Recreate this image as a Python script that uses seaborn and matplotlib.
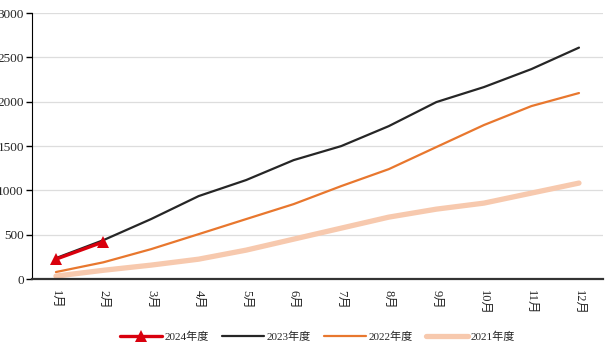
import numpy as np
import pandas as pd
import seaborn as sns
import matplotlib.pyplot as plt

months = ['1月', '2月', '3月', '4月', '5月', '6月', '7月', '8月', '9月', '10月', '11月', '12月']
y2024 = [225, 420]
y2023 = [237, 440, 677, 936, 1117, 1342, 1500, 1725, 1996, 2165, 2368, 2610]
y2022 = [80, 190, 338, 507, 677, 846, 1049, 1240, 1489, 1737, 1951, 2098]
y2021 = [34, 100, 158, 225, 327, 451, 575, 699, 789, 857, 970, 1083]

sns.set_style('white')
plt.rcParams['font.family'] = ['Liberation Serif', 'Noto Sans CJK SC', 'DejaVu Sans']

fig = plt.figure(figsize=(6.07, 3.52), dpi=100)
ax = fig.add_axes([0.053, 0.207, 0.94, 0.756])

x = np.arange(len(months))
sns.lineplot(x=x, y=y2021, ax=ax, color='#F7C9AE', lw=3.8, label='2021年度', solid_capstyle='round')
sns.lineplot(x=x, y=y2022, ax=ax, color='#E8772E', lw=1.6, label='2022年度')
sns.lineplot(x=x, y=y2023, ax=ax, color='#262626', lw=1.6, label='2023年度')
sns.lineplot(x=x[:2], y=y2024, ax=ax, color='#D9000D', lw=2.4, marker='^',
             markersize=9, markeredgewidth=0, label='2024年度')

ax.set_ylim(0, 3000)
ax.set_xlim(-0.5, 11.5)
ax.set_yticks(range(0, 3001, 500))
ax.yaxis.grid(True, color='#DDDDDD', lw=0.9)
ax.set_xticks(x)
ax.set_xticklabels(months, rotation=270, fontsize=9)
ax.set_xticks(np.arange(-0.5, 12, 1), minor=True)
ax.tick_params(axis='x', which='major', length=0, pad=8)
ax.tick_params(axis='x', which='minor', length=4, width=1, color='#333333', direction='out')
ax.tick_params(axis='y', length=4, width=1, color='#000000', labelsize=9.5, pad=2, left=True)
for s in ['top', 'right']:
    ax.spines[s].set_visible(False)
ax.spines['left'].set_color('#000000')
ax.spines['bottom'].set_color('#333333')
ax.spines['bottom'].set_linewidth(1.6)

h, l = ax.get_legend_handles_labels()
order = [3, 2, 1, 0]
ax.legend([h[i] for i in order], [l[i] for i in order], loc='center',
          bbox_to_anchor=(0.5, -0.215), ncol=4, frameon=False, fontsize=8,
          handlelength=3.8, columnspacing=1.2, handletextpad=0.2)

fig.savefig('out.png', dpi=100)
